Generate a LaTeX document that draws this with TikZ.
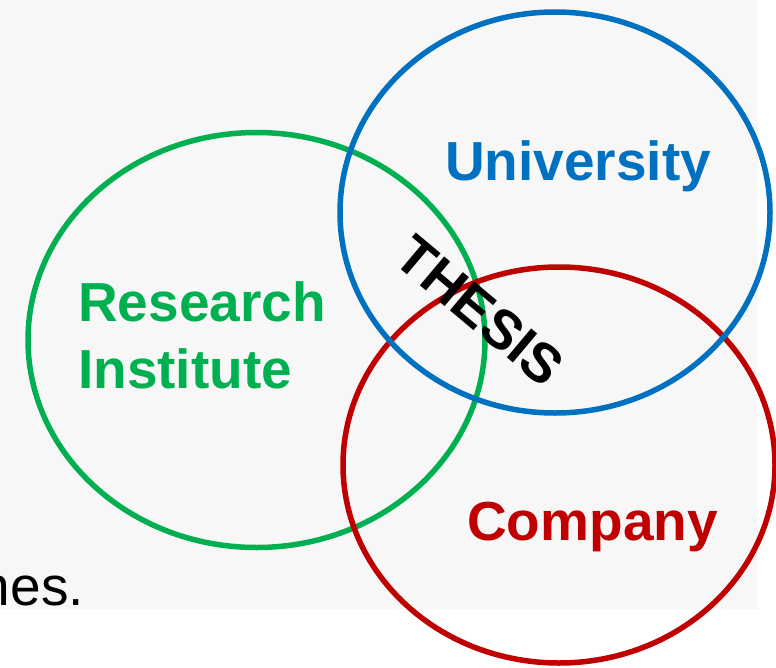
\documentclass[tikz,border=0pt]{standalone}
\usepackage{fontspec}
\setmainfont{Liberation Sans}
\definecolor{ringgreen}{HTML}{00B050}
\definecolor{ringblue}{HTML}{0070C0}
\definecolor{ringred}{HTML}{C00000}
\definecolor{slide}{HTML}{F7F7F7}
\tikzset{
	ring/.style={line width=5.5pt},
	label/.style={font=\fontsize{55}{67}\selectfont\bfseries,inner sep=0pt}
}
\begin{document}
\begin{tikzpicture}[x=1pt,y=-1pt]
\useasboundingbox (0,0) rectangle (776,667);
\fill[slide] (0,0) rectangle (758,609);
\draw[ring,ringgreen] (256.5,340) ellipse [x radius=228.5,y radius=207.5];
\draw[ring,ringred] (559,465) ellipse [x radius=216,y radius=198];
\draw[ring,ringblue] (555,212.5) ellipse [x radius=215,y radius=200.5];
\node[label,ringblue,anchor=base west] (uni) at (445,180) {University};
\node[label,ringgreen,anchor=base west,align=left] (inst) at (78,388) {Research\\Institute};
\node[label,ringred,anchor=base west] (comp) at (467,540) {Company};
\node[label,rotate=-40] (thesis) at (480,311) {THESIS};
\node[anchor=base east,inner sep=0pt,font=\fontsize{55}{66}\selectfont] (tail) at (84,605) {nes.};
\end{tikzpicture}
\end{document}
